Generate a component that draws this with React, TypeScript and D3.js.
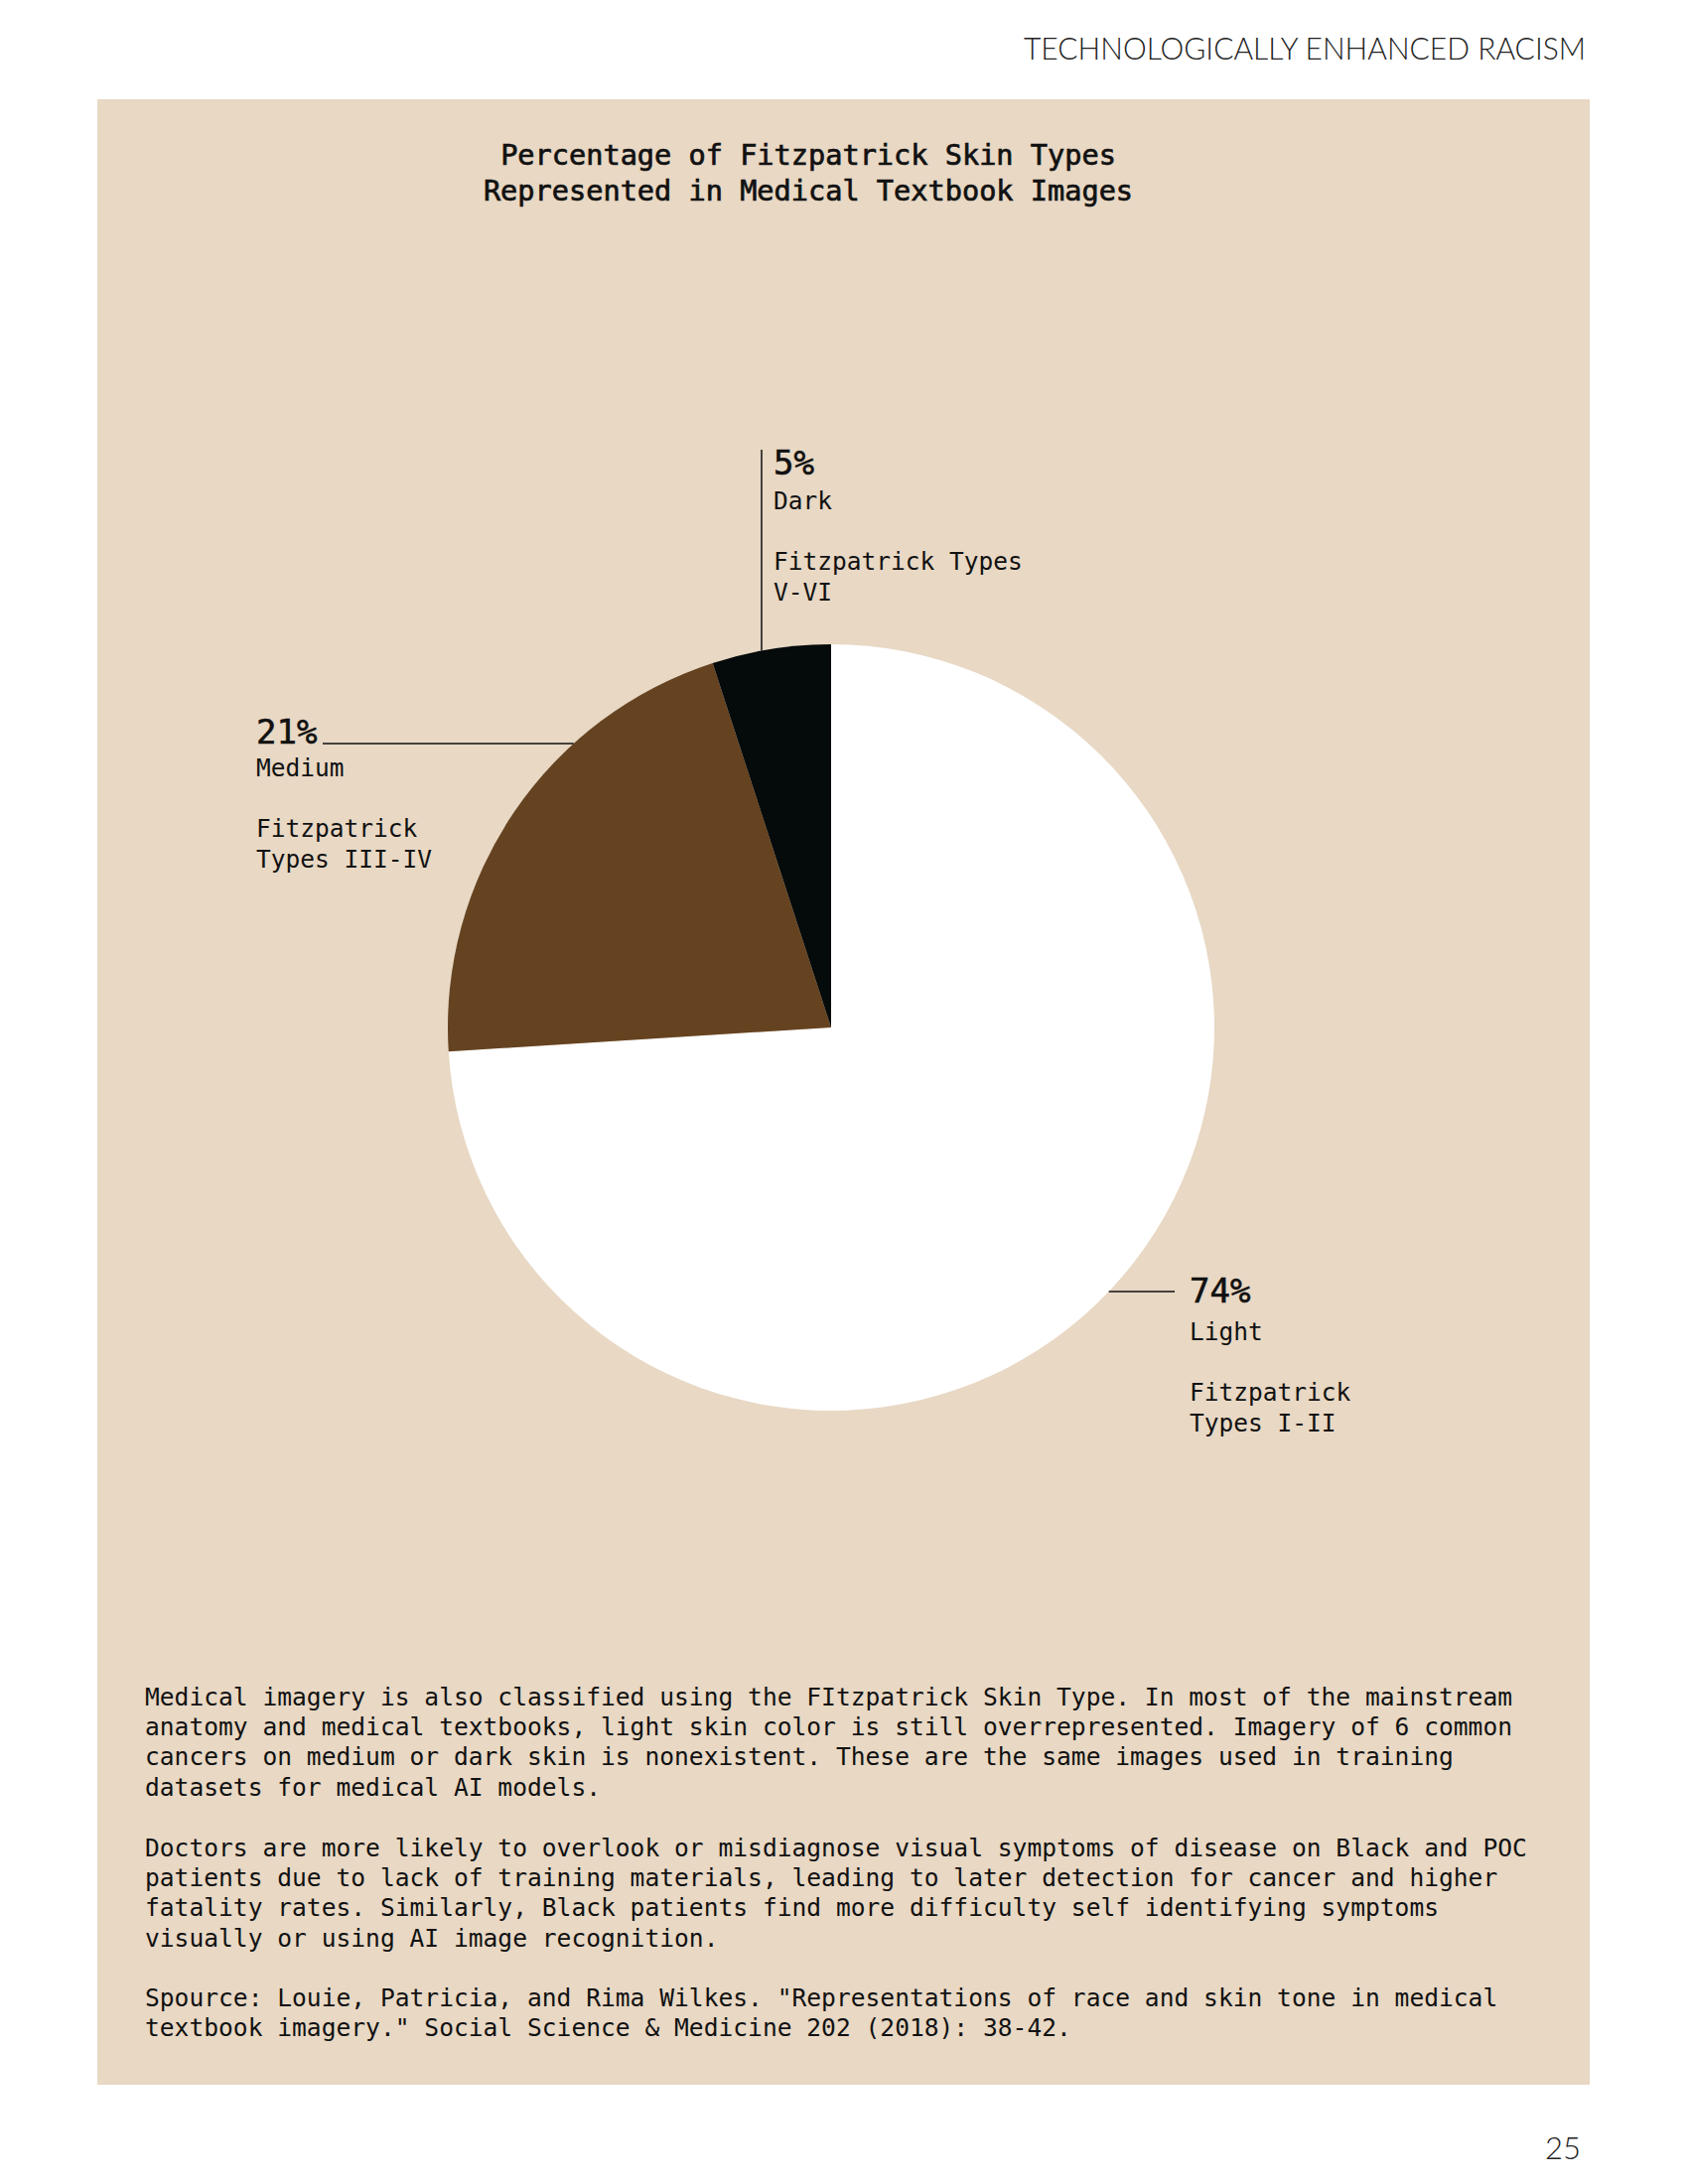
import React from "react";
import * as d3 from "d3";

const categories = ["Light", "Medium", "Dark"];
const values = [74, 21, 5];
const typeLabels = [["Fitzpatrick", "Types I-II"], ["Fitzpatrick", "Types III-IV"], ["Fitzpatrick Types", "V-VI"]];
const sliceColors = ["#ffffff", "#654321", "#050a0a"];
const titleLines = ["Percentage of Fitzpatrick Skin Types", "Represented in Medical Textbook Images"];
const bodyParas = [
  [
    "Medical imagery is also classified using the FItzpatrick Skin Type. In most of the mainstream",
    "anatomy and medical textbooks, light skin color is still overrepresented. Imagery of 6 common",
    "cancers on medium or dark skin is nonexistent. These are the same images used in training",
    "datasets for medical AI models.",
  ],
  [
    "Doctors are more likely to overlook or misdiagnose visual symptoms of disease on Black and POC",
    "patients due to lack of training materials, leading to later detection for cancer and higher",
    "fatality rates. Similarly, Black patients find more difficulty self identifying symptoms",
    "visually or using AI image recognition.",
  ],
  [
    "Spource: Louie, Patricia, and Rima Wilkes. \"Representations of race and skin tone in medical",
    "textbook imagery.\" Social Science & Medicine 202 (2018): 38-42.",
  ],
];
const headerText = "TECHNOLOGICALLY ENHANCED RACISM";
const pageNumber = "25";

const MONO = "'DejaVu Sans Mono', 'Liberation Mono', monospace";

export default function App() {
  const W = 1700, H = 2200;
  const cx = 837, cy = 1035, R = 386;
  const pie = d3.pie<number>().sort(null).value((d) => d);
  const arcs = pie(values);
  const arcGen = d3.arc<d3.PieArcDatum<number>>().innerRadius(0).outerRadius(R);

  const labelPos = [
    { x: 1198, y: 1312 },
    { x: 258, y: 749 },
    { x: 779, y: 478 },
  ];
  const edgeX = (y: number, side: number) => cx + side * Math.sqrt(R * R - (y - cy) * (y - cy));
  const edgeY = (x: number) => cy - Math.sqrt(R * R - (x - cx) * (x - cx));
  const leaders = [
    { x1: edgeX(1301, 1), y1: 1301, x2: 1183, y2: 1301 },
    { x1: 325, y1: 749, x2: edgeX(749, -1), y2: 749 },
    { x1: 767, y1: 453, x2: 767, y2: edgeY(767) },
  ];
  const nameOffset = [38, 33, 35];

  return (
    <svg width={W} height={H} style={{ position: "absolute", left: 0, top: 0, background: "#ffffff" }}>
      <rect x={0} y={0} width={W} height={H} fill="#ffffff" />
      <text x={1597} y={60} textAnchor="end" fontFamily="Lato, 'Open Sans', sans-serif" fontWeight={300}
        fontSize={32} fill="#222" textLength={566} lengthAdjust="spacingAndGlyphs">{headerText}</text>
      <rect x={98} y={100} width={1503} height={2000} fill="#e8d8c4" />
      {titleLines.map((t, i) => (
        <text key={i} x={814} y={166 + i * 36} textAnchor="middle" fontFamily={MONO} fontSize={28.6}
          fill="#111" stroke="#111" strokeWidth={0.7}>{t}</text>
      ))}
      <g transform={`translate(${cx},${cy})`}>
        {arcs.map((a, i) => (
          <path key={i} d={arcGen(a) || ""} fill={sliceColors[i]} />
        ))}
      </g>
      {leaders.map((l, i) => (
        <line key={i} x1={l.x1} y1={l.y1} x2={l.x2} y2={l.y2} stroke="#111" strokeWidth={1.5} />
      ))}
      {categories.map((c, i) => {
        const p = labelPos[i];
        const nameY = p.y + nameOffset[i];
        return (
          <g key={c} fontFamily={MONO} fill="#111">
            <text x={p.x} y={p.y} fontSize={34} stroke="#111" strokeWidth={0.6}>{values[i]}%</text>
            <text x={p.x} y={nameY} fontSize={24.5}>{c}</text>
            {typeLabels[i].map((t, j) => (
              <text key={j} x={p.x} y={nameY + 61 + j * 30.5} fontSize={24.5}>{t}</text>
            ))}
          </g>
        );
      })}
      {bodyParas.map((para, pi) =>
        para.map((line, li) => (
          <text key={`${pi}-${li}`} x={146} y={[1718, 1870, 2021][pi] + li * 30.2} fontFamily={MONO}
            fontSize={24.6} fill="#111" style={{ whiteSpace: "pre" }}>{line}</text>
        ))
      )}
      <text x={1592} y={2175} textAnchor="end" fontFamily="Lato, 'Open Sans', sans-serif" fontWeight={300}
        fontSize={31} fill="#222">{pageNumber}</text>
    </svg>
  );
}
